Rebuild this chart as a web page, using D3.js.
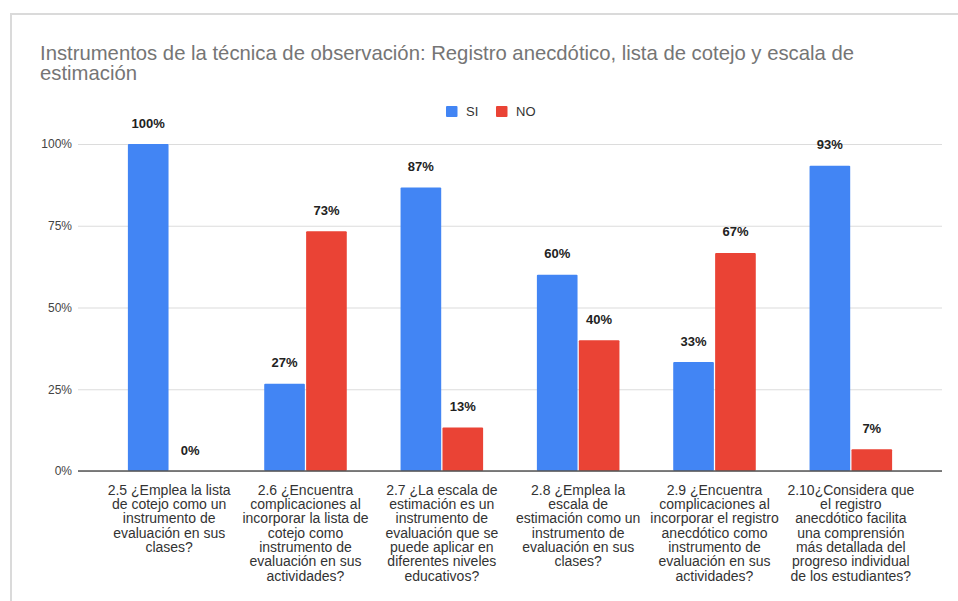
<!DOCTYPE html>
<html>
<head>
<meta charset="utf-8">
<script src="https://cdn.jsdelivr.net/npm/d3@7"></script>
<style>
  html, body { margin: 0; padding: 0; background: #fff; }
  svg { display: block; font-family: Arial, "Liberation Sans", sans-serif; }
</style>
</head>
<body>
<div id="chart"></div>
<script>
// data
const categories = [
    "2.5 ¿Emplea la lista\nde cotejo como un\ninstrumento de\nevaluación en sus\nclases?",
    "2.6 ¿Encuentra\ncomplicaciones al\nincorporar la lista de\ncotejo como\ninstrumento de\nevaluación en sus\nactividades?",
    "2.7 ¿La escala de\nestimación es un\ninstrumento de\nevaluación que se\npuede aplicar en\ndiferentes niveles\neducativos?",
    "2.8 ¿Emplea la\nescala de\nestimación como un\ninstrumento de\nevaluación en sus\nclases?",
    "2.9 ¿Encuentra\ncomplicaciones al\nincorporar el registro\nanecdótico como\ninstrumento de\nevaluación en sus\nactividades?",
    "2.10¿Considera que\nel registro\nanecdótico facilita\nuna comprensión\nmás detallada del\nprogreso individual\nde los estudiantes?"
];
const seriesNames = ["SI", "NO"];
const siValues = [100, 26.67, 86.67, 60, 33.33, 93.33];
const noValues = [0, 73.33, 13.33, 40, 66.67, 6.67];
const yTicks = [0, 25, 50, 75, 100];
const titleLines = [
    "Instrumentos de la técnica de observación: Registro anecdótico, lista de cotejo y escala de",
    "estimación"
];

const colors = { SI: "#4285f4", NO: "#ea4335" };

const W = 958, H = 601;
const plot = { left: 78, right: 942, top: 144, bottom: 471 };

const svg = d3.select("#chart").append("svg")
    .attr("width", W)
    .attr("height", H);

// outer frame (screenshot border)
svg.append("path")
    .attr("d", `M11,${H} V14 H${W}`)
    .attr("fill", "none")
    .attr("stroke", "#dadada")
    .attr("stroke-width", 2);

// title
svg.append("g").selectAll("text")
    .data(titleLines)
    .join("text")
    .attr("x", 40)
    .attr("y", (d, i) => 60 + i * 20)
    .attr("fill", "#757575")
    .attr("font-size", "20.3px")
    .text(d => d);

// scales
const x0 = d3.scaleBand()
    .domain(categories)
    .range([101, 919])
    .paddingInner(0.376)
    .paddingOuter(0.188);

const x1 = d3.scaleBand()
    .domain(seriesNames)
    .range([0, x0.bandwidth()])
    .padding(0.03);

const y = d3.scaleLinear()
    .domain([0, 100])
    .range([plot.bottom, plot.top]);

// gridlines + y labels
const yAxis = svg.append("g")
    .attr("transform", `translate(${plot.left},0)`)
    .call(d3.axisLeft(y)
        .tickValues(yTicks)
        .tickSize(-(plot.right - plot.left))
        .tickPadding(6)
        .tickFormat(d => d + "%"));
yAxis.select(".domain").remove();
yAxis.selectAll(".tick line")
    .attr("stroke", "#dcdcdc")
    .attr("stroke-width", 1.2);
yAxis.selectAll(".tick text")
    .attr("fill", "#444")
    .attr("font-size", "12px")
    .attr("font-family", "Arial, 'Liberation Sans', sans-serif");

// bars
const rows = categories.map((c, i) => ({
    cat: c,
    vals: [
        { key: "SI", value: siValues[i] },
        { key: "NO", value: noValues[i] }
    ]
}));

const groups = svg.append("g")
    .selectAll("g")
    .data(rows)
    .join("g")
    .attr("transform", d => `translate(${x0(d.cat)},0)`);

groups.selectAll("rect")
    .data(d => d.vals)
    .join("rect")
    .attr("x", d => x1(d.key))
    .attr("y", d => y(d.value))
    .attr("width", x1.bandwidth())
    .attr("height", d => plot.bottom - y(d.value))
    .attr("rx", 1)
    .attr("fill", d => colors[d.key]);

// value labels
groups.selectAll("text.val")
    .data(d => d.vals)
    .join("text")
    .attr("class", "val")
    .attr("x", d => x1(d.key) + x1.bandwidth() / 2)
    .attr("y", d => y(d.value) - 16.5)
    .attr("text-anchor", "middle")
    .attr("font-size", "13px")
    .attr("font-weight", "bold")
    .attr("fill", "#222")
    .text(d => Math.round(d.value) + "%");

// baseline
svg.append("line")
    .attr("x1", plot.left)
    .attr("x2", plot.right)
    .attr("y1", plot.bottom)
    .attr("y2", plot.bottom)
    .attr("stroke", "#555")
    .attr("stroke-width", 1.5);

// category labels, one tspan per line
const catLabels = svg.append("g")
    .selectAll("text")
    .data(categories)
    .join("text")
    .attr("x", d => x0(d) + x0.bandwidth() / 2)
    .attr("y", 494.7)
    .attr("text-anchor", "middle")
    .attr("font-size", "14px")
    .attr("fill", "#333");

catLabels.selectAll("tspan")
    .data(d => d.split("\n"))
    .join("tspan")
    .attr("x", function () { return d3.select(this.parentNode).attr("x"); })
    .attr("dy", (d, i) => i === 0 ? 0 : 14.3)
    .text(d => d);

// legend
const legend = svg.append("g")
    .selectAll("g")
    .data(seriesNames)
    .join("g")
    .attr("transform", (d, i) => `translate(${446 + i * 50},106)`);

legend.append("rect")
    .attr("width", 11.5)
    .attr("height", 11)
    .attr("rx", 1)
    .attr("fill", d => colors[d]);

legend.append("text")
    .attr("x", 20)
    .attr("y", 10)
    .attr("font-size", "13px")
    .attr("fill", "#333")
    .text(d => d);
</script>
</body>
</html>
